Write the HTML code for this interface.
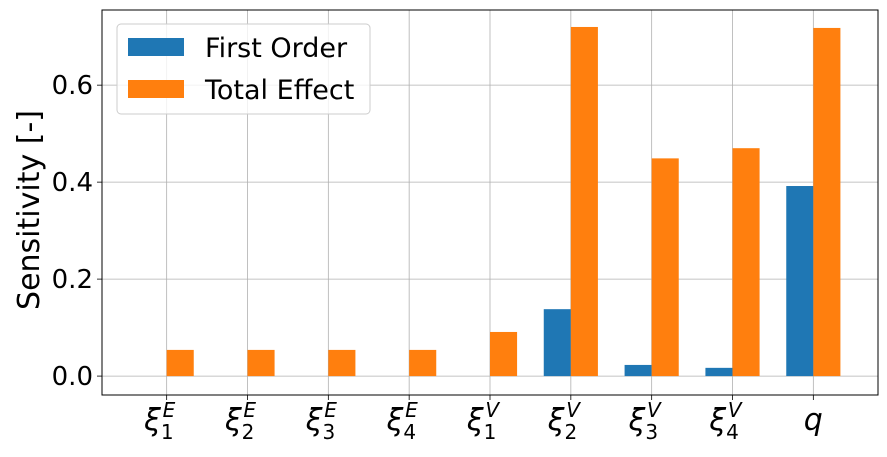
<!DOCTYPE html>
<html><head><meta charset="utf-8"><style>
body{margin:0;background:#fff;}
svg text{font-family:"DejaVu Sans","Liberation Sans",sans-serif;}
</style></head><body>
<svg id="chart" width="887" height="452" xmlns="http://www.w3.org/2000/svg"></svg>
<script>
const categories = [["1","E"],["2","E"],["3","E"],["4","E"],["1","V"],["2","V"],["3","V"],["4","V"],["q",""]];
const firstOrder = [0,0,0,0,0,0.138,0.023,0.017,0.392];
const totalEffect = [0.054,0.054,0.054,0.054,0.091,0.72,0.449,0.47,0.718];
const yTicks = [0,0.2,0.4,0.6];
const yTickLabels = ["0.0","0.2","0.4","0.6"];

const L=102,R=878,T=10,B=395;
const xMin=-0.8,xMax=8.8,yMin=-0.039,yMax=0.755;
const xs=v=>L+(v-xMin)/(xMax-xMin)*(R-L);
const ys=v=>B-(v-yMin)/(yMax-yMin)*(B-T);
const bw=0.335*(R-L)/(xMax-xMin);
const svg=document.getElementById('chart');
const NS='http://www.w3.org/2000/svg';
function mk(tag,attrs,parent){const e=document.createElementNS(NS,tag);for(const k in attrs)e.setAttribute(k,attrs[k]);(parent||svg).appendChild(e);return e;}

categories.forEach((c,i)=>{
  const g=mk('line',{x1:xs(i),x2:xs(i),y1:T,y2:B,stroke:'#b0b0b0','stroke-width':0.8});
  
  
});
yTicks.forEach((t,i)=>{
  const g=mk('line',{x1:L,x2:R,y1:ys(t),y2:ys(t),stroke:'#b0b0b0','stroke-width':0.8});
  
  
  const tk=mk('line',{x1:L-5,x2:L,y1:ys(t),y2:ys(t),stroke:'#000','stroke-width':0.8});
  
  
  const tx=mk('text',{x:L-9,y:ys(t)+9,'text-anchor':'end','font-size':26});
  tx.textContent=yTickLabels[i];
  
  
});
categories.forEach((c,i)=>{
  const b1=mk('rect',{x:xs(i)-bw,y:Math.min(ys(firstOrder[i]),ys(0)),width:bw,height:Math.abs(ys(0)-ys(firstOrder[i])),fill:'#1f77b4'});
  
  
  const b2=mk('rect',{x:xs(i),y:Math.min(ys(totalEffect[i]),ys(0)),width:bw,height:Math.abs(ys(0)-ys(totalEffect[i])),fill:'#ff7f0e'});
  
  
  const tk=mk('line',{x1:xs(i),x2:xs(i),y1:B,y2:B+5,stroke:'#000','stroke-width':0.8});
  
  
  const tx=mk('text',{x:xs(i),y:B+35,'text-anchor':'middle','font-size':30,'font-style':'italic'});
  if(c[1]){
    tx.innerHTML='ξ<tspan font-size="20" font-style="normal" dy="9">'+c[0]+'</tspan><tspan font-size="20" dx="-11" dy="-22">'+c[1]+'</tspan>';
    tx.setAttribute('x',xs(i)-7);
  } else tx.textContent=c[0];
  
  
});
const frame=mk('rect',{x:L,y:T,width:R-L,height:B-T,fill:'none',stroke:'#000','stroke-width':1});


const yt=mk('text',{x:0,y:0,transform:'translate(39,210) rotate(-90)','text-anchor':'middle','font-size':30});
yt.textContent='Sensitivity [-]';


const lg=mk('g',{});


mk('rect',{x:117,y:24,width:253,height:90,rx:4,fill:'#fff','fill-opacity':0.8,stroke:'#ccc'},lg);
[['First Order','#1f77b4',38],['Total Effect','#ff7f0e',80]].forEach(([n,c,y])=>{
  const p=mk('rect',{x:128,y:y,width:56,height:18,fill:c},lg);
  
  
  const t=mk('text',{x:205,y:y+19,'font-size':27},lg);
  t.textContent=n;
  
  
});
</script>
</body></html>
